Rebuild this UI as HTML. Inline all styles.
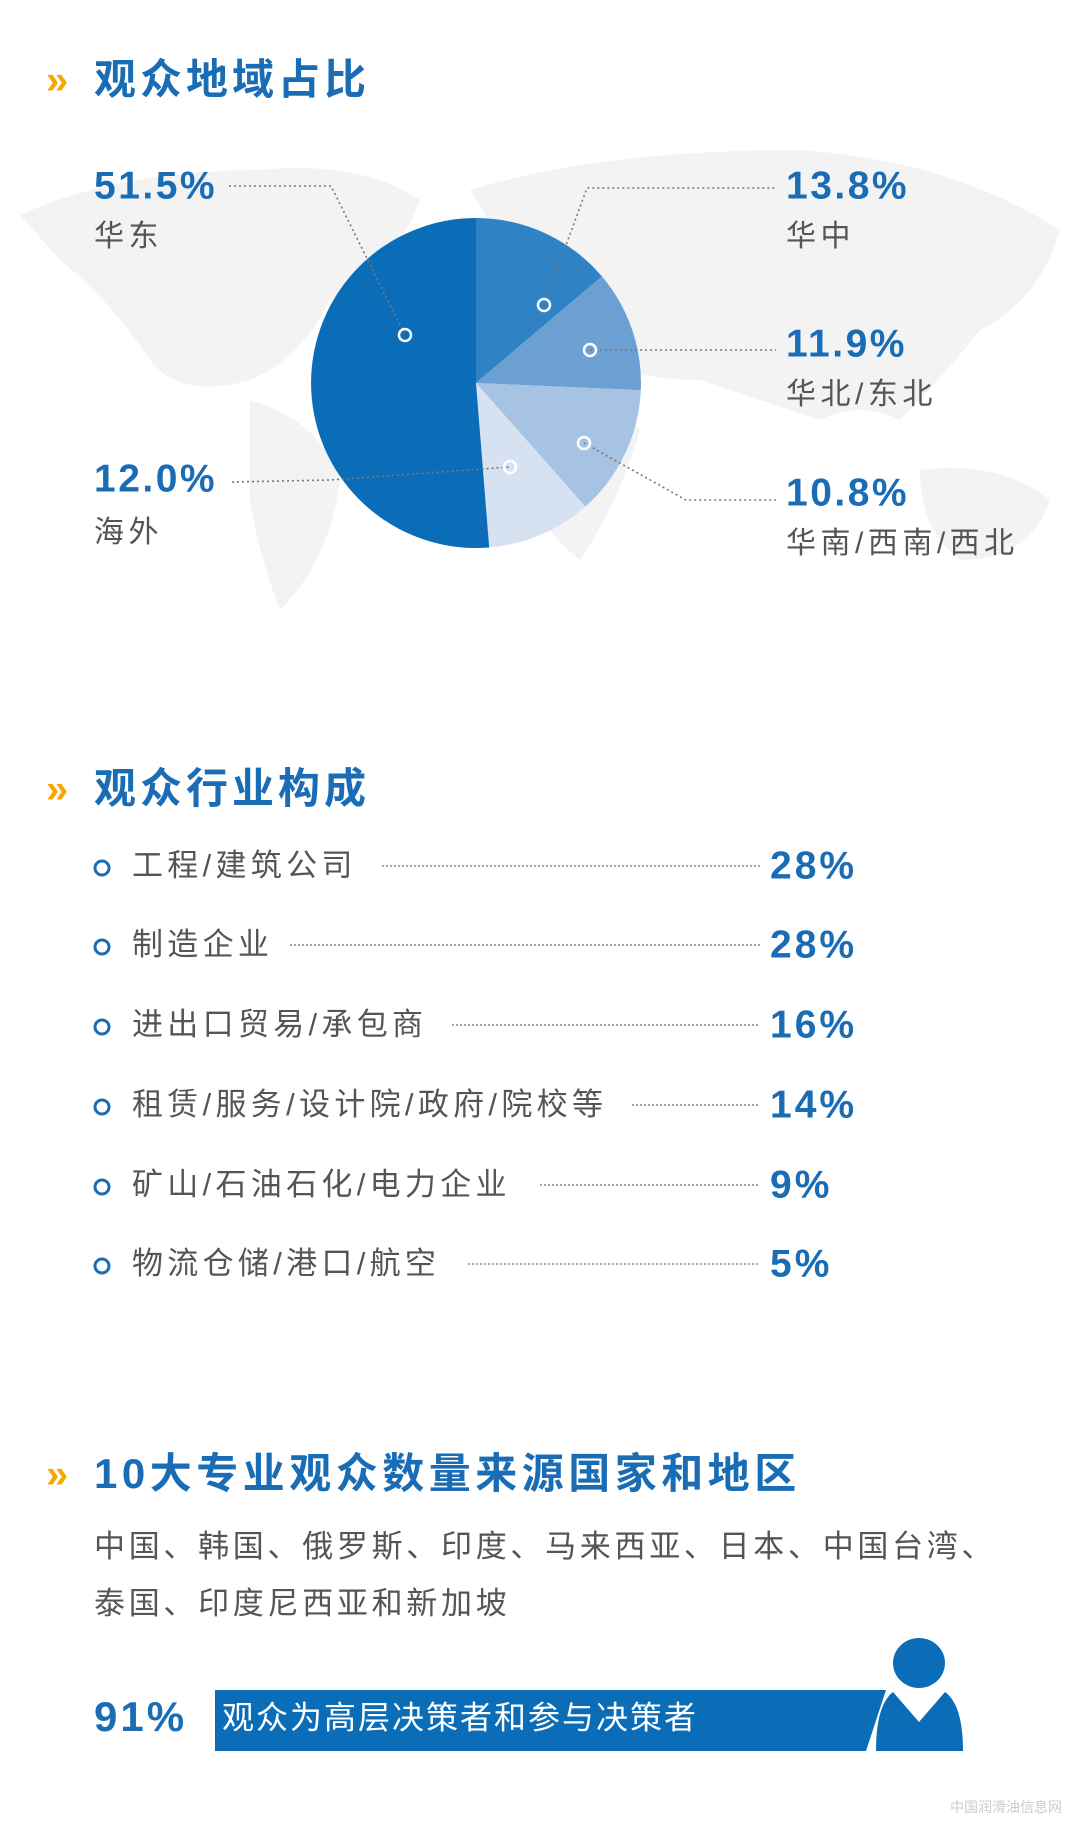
<!DOCTYPE html>
<html><head><meta charset="utf-8"><style>
html,body{margin:0;padding:0;background:#fff;}
svg{display:block;}
.t{font-family:"Liberation Sans","Noto Sans CJK SC",sans-serif;}
</style></head><body>
<svg width="1080" height="1845" viewBox="0 0 1080 1845" xmlns="http://www.w3.org/2000/svg" class="t">
<rect width="1080" height="1845" fill="#fff"/>
<!-- faint world map -->
<g fill="#f3f3f3">
<path d="M20 215 Q120 170 260 170 Q360 160 420 200 Q400 260 330 300 Q300 360 250 380 Q180 400 150 360 Q110 300 60 260 Z"/>
<path d="M250 400 Q320 420 340 480 Q330 560 280 610 Q260 560 250 500 Z"/>
<path d="M470 190 Q600 150 800 150 Q950 160 1060 230 Q1040 300 980 330 Q940 380 900 420 Q860 400 820 420 Q760 400 700 380 Q640 380 600 360 Q560 300 520 270 Z"/>
<path d="M520 380 Q600 380 640 430 Q620 500 580 560 Q540 530 520 470 Z"/>
<path d="M920 470 Q1000 460 1050 500 Q1030 560 960 560 Q920 530 920 470 Z"/>
</g>
<!-- Section 1 title -->
<text x="46" y="83" font-size="40" font-weight="bold" fill="#f5a800" dominant-baseline="middle">»</text>
<text x="94" y="83" font-size="42" font-weight="bold" fill="#1a6db5" dominant-baseline="middle" letter-spacing="4">观众地域占比</text>
<!-- Pie -->
<g transform="translate(476,383)">
<path d="M0 0 L0 -165 A165 165 0 0 1 125.9 -106.6 Z" fill="#2f83c5"/>
<path d="M0 0 L125.9 -106.6 A165 165 0 0 1 164.8 7.2 Z" fill="#6c9fd2"/>
<path d="M0 0 L164.8 7.2 A165 165 0 0 1 109.3 123.6 Z" fill="#a6c3e4"/>
<path d="M0 0 L109.3 123.6 A165 165 0 0 1 13.2 164.5 Z" fill="#d6e2f2"/>
<path d="M0 0 L13.2 164.5 A165 165 0 0 1 0 165 Z" fill="#0b6db8"/>
<path d="M0 -165 A165 165 0 0 0 0 165 Z" fill="#0b6db8"/>
</g>
<!-- leaders -->
<g stroke="#777" stroke-width="1.6" stroke-dasharray="2 3" fill="none">
<polyline points="229,186 331,186 405,335"/>
<polyline points="544,305 587,188 776,188"/>
<polyline points="590,350 776,350"/>
<polyline points="584,443 686,500 776,500"/>
<polyline points="232,482 330,480 510,467"/>
</g>
<g fill="none" stroke="#fff" stroke-width="2.5">
<circle cx="405" cy="335" r="6"/>
<circle cx="544" cy="305" r="6"/>
<circle cx="590" cy="350" r="6"/>
<circle cx="584" cy="443" r="6"/>
<circle cx="510" cy="467" r="6"/>
</g>
<g font-size="39" font-weight="bold" fill="#1a6db5" dominant-baseline="middle" letter-spacing="2.5">
<text x="94" y="188">51.5%</text>
<text x="94" y="481">12.0%</text>
<text x="786" y="188">13.8%</text>
<text x="786" y="346">11.9%</text>
<text x="786" y="495">10.8%</text>
</g>
<g font-size="30" fill="#555" dominant-baseline="middle" letter-spacing="4.5">
<text x="94" y="238">华东</text>
<text x="94" y="534">海外</text>
<text x="786" y="238">华中</text>
<text x="786" y="396">华北/东北</text>
<text x="786" y="545">华南/西南/西北</text>
</g>
<!-- Section 2 -->
<text x="46" y="792" font-size="40" font-weight="bold" fill="#f5a800" dominant-baseline="middle">»</text>
<text x="94" y="792" font-size="42" font-weight="bold" fill="#1a6db5" dominant-baseline="middle" letter-spacing="4">观众行业构成</text>
<g fill="none" stroke="#1a6db5" stroke-width="3">
<circle cx="102" cy="868" r="7"/><circle cx="102" cy="947" r="7"/><circle cx="102" cy="1027" r="7"/>
<circle cx="102" cy="1107" r="7"/><circle cx="102" cy="1187" r="7"/><circle cx="102" cy="1266" r="7"/>
</g>
<g font-size="31" fill="#555" dominant-baseline="middle" letter-spacing="4.3">
<text x="132" y="868">工程/建筑公司</text>
<text x="132" y="947">制造企业</text>
<text x="132" y="1027">进出口贸易/承包商</text>
<text x="132" y="1107">租赁/服务/设计院/政府/院校等</text>
<text x="132" y="1187">矿山/石油石化/电力企业</text>
<text x="132" y="1266">物流仓储/港口/航空</text>
</g>
<g stroke="#888" stroke-width="1.5" stroke-dasharray="2 2">
<line x1="382" y1="866" x2="760" y2="866"/>
<line x1="290" y1="945" x2="760" y2="945"/>
<line x1="452" y1="1025" x2="760" y2="1025"/>
<line x1="632" y1="1105" x2="760" y2="1105"/>
<line x1="540" y1="1185" x2="760" y2="1185"/>
<line x1="468" y1="1264" x2="760" y2="1264"/>
</g>
<g font-size="39" font-weight="bold" fill="#1a6db5" dominant-baseline="middle" letter-spacing="3">
<text x="770" y="868">28%</text><text x="770" y="947">28%</text><text x="770" y="1027">16%</text>
<text x="770" y="1107">14%</text><text x="770" y="1187">9%</text><text x="770" y="1266">5%</text>
</g>
<!-- Section 3 -->
<text x="46" y="1477" font-size="40" font-weight="bold" fill="#f5a800" dominant-baseline="middle">»</text>
<text x="94" y="1477" font-size="42" font-weight="bold" fill="#1a6db5" dominant-baseline="middle" letter-spacing="4.5">10大专业观众数量来源国家和地区</text>
<g font-size="31" fill="#555" dominant-baseline="middle" letter-spacing="3.7">
<text x="94" y="1549">中国、韩国、俄罗斯、印度、马来西亚、日本、中国台湾、</text>
<text x="94" y="1606">泰国、印度尼西亚和新加坡</text>
</g>
<text x="94" y="1720" font-size="42" font-weight="bold" fill="#1a6db5" dominant-baseline="middle" letter-spacing="3">91%</text>
<polygon points="215,1690 886,1690 866,1751 215,1751" fill="#0b6db8"/>
<text x="222" y="1720" font-size="32" fill="#fff" dominant-baseline="middle" letter-spacing="2">观众为高层决策者和参与决策者</text>
<ellipse cx="919" cy="1663" rx="26" ry="25" fill="#0b6db8"/>
<path d="M893 1692 L919 1722 L945 1692 Q963 1705 963 1751 L876 1751 Q876 1705 893 1692 Z" fill="#0b6db8"/>
<text x="950" y="1812" font-size="14" fill="#ccc">中国润滑油信息网</text>
</svg>
</body></html>
